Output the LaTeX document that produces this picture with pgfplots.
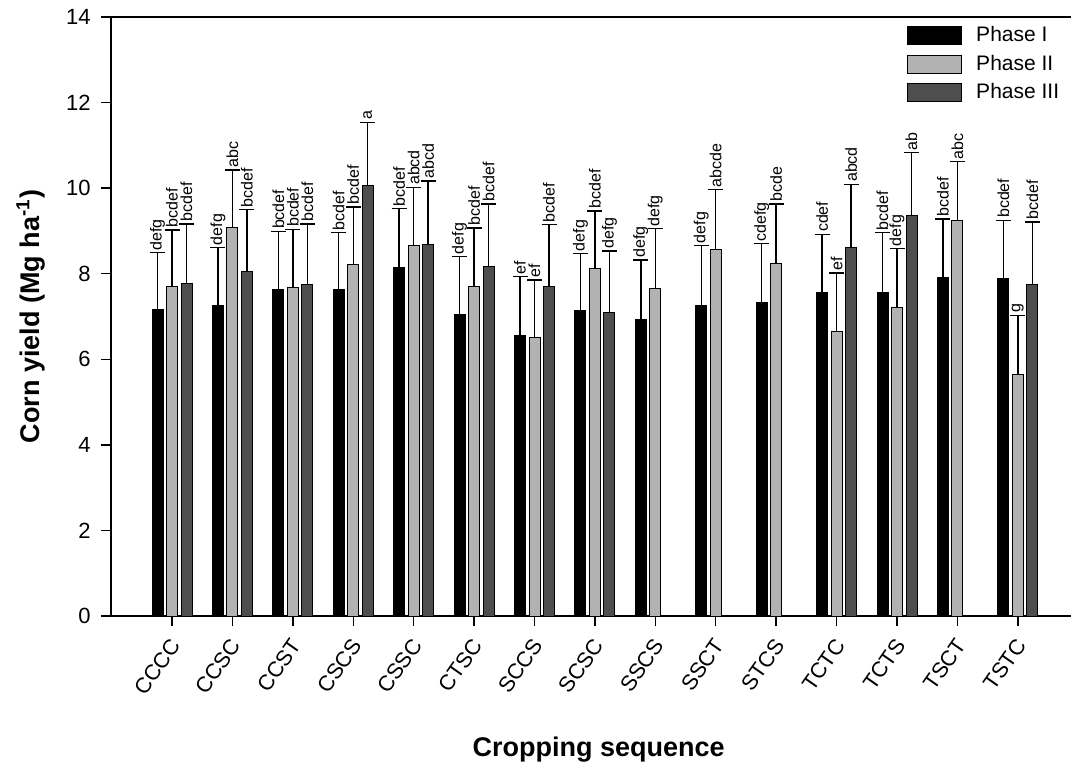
\documentclass[border=0pt]{standalone}
\usepackage{fontspec}
\setmainfont{Liberation Sans}
\usepackage{pgfplots}
\usepackage{pgfplotstable}
\pgfplotsset{compat=1.18}
\definecolor{ltgray}{RGB}{178,178,178}
\definecolor{dkgray}{RGB}{78,78,78}

\pgfplotstableread{
x y e lab
0 7.17 1.32 defg
1 7.26 1.35 defg
2 7.64 1.35 bcdef
3 7.63 1.33 bcdef
4 8.14 1.38 bcdef
5 7.05 1.35 defg
6 6.56 1.37 ef
7 7.13 1.34 defg
8 6.94 1.38 defg
9 7.25 1.41 defg
10 7.33 1.37 cdefg
11 7.55 1.37 cdef
12 7.57 1.39 bcdef
13 7.90 1.38 bcdef
14 7.88 1.37 bcdef
}\tabI

\pgfplotstableread{
x y e lab
0 7.69 1.33 bcdef
1 9.07 1.35 abc
2 7.68 1.36 bcdef
3 8.22 1.34 bcdef
4 8.67 1.35 abcd
5 7.69 1.38 bcdef
6 6.50 1.35 ef
7 8.12 1.35 bcdef
8 7.66 1.39 defg
9 8.57 1.40 abcde
10 8.23 1.40 bcde
11 6.64 1.38 ef
12 7.20 1.39 defg
13 9.25 1.37 abc
14 5.65 1.38 g
}\tabII

\pgfplotstableread{
x y e lab
0 7.77 1.39 bcdef
1 8.06 1.44 bcdef
2 7.74 1.42 bcdef
3 10.07 1.47 a
4 8.68 1.49 abcd
5 8.18 1.45 bcdef
6 7.69 1.46 bcdef
7 7.10 1.43 defg
11 8.62 1.47 abcd
12 9.35 1.48 ab
14 7.75 1.46 bcdef
}\tabIII

\begin{document}
\begin{tikzpicture}
\path[use as bounding box] (-55.5pt,-72.5pt) rectangle (480pt,308pt);
\begin{axis}[
  at={(0,0)}, anchor=south west,
  scale only axis, width=480pt, height=299.5pt,
  xmin=-1.01, xmax=14.88, ymin=0, ymax=14,
  axis lines=left, axis line style={-, line width=0.7pt},
  tick align=outside, major tick length=5pt,
  tick style={black, line width=0.7pt},
  xtick={0,...,14},
  xticklabels={CCCC,CCSC,CCST,CSCS,CSSC,CTSC,SCCS,SCSC,SSCS,SSCT,STCS,TCTC,TCTS,TSCT,TSTC},
  ytick={0,2,...,14},
  minor tick num=0,
  /pgf/number format/assume math mode=true,
  xticklabel style={font=\fontsize{10.8}{12}\selectfont, rotate=55, anchor=east, inner sep=0pt, xshift=-5.07pt, yshift=-5.75pt},
  yticklabel style={font=\fontsize{11}{12}\selectfont, inner sep=0pt, xshift=-5pt},
  xlabel={Cropping sequence},
  ylabel={Corn yield (Mg ha\textsuperscript{-1})},
  label style={font=\bfseries\fontsize{13.5}{15}\selectfont},
  xlabel style={at={(axis description cs:0.508,0)}, anchor=base, yshift=-70pt},
  ylabel style={at={(axis description cs:-0.0833,0.5)}, anchor=center, rotate=0},
  legend style={at={(rel axis cs:0.829,0.99)}, anchor=north west, draw=none, fill=none,
    inner sep=0pt, font=\fontsize{10.5}{12}\selectfont,
    nodes={inner sep=1pt, text height=8pt, text depth=2pt},
    row sep=2.4pt},
  legend cell align=left,
  clip=false,
  mylegend/.style={legend image code/.code={\draw[##1, line width=0.5pt] (0pt,-4.5pt) rectangle (27pt,4.5pt); \path (33pt,0pt);}},
  err/.style={draw=none, mark=none, forget plot, error bars/.cd, y dir=plus, y explicit,
    error bar style={black, line width=0.7pt},
    error mark options={rotate=90, black, mark size=3.75pt, line width=0.7pt}},
  lbl/.style={draw=none, mark=none, forget plot, nodes near coords, point meta=explicit symbolic,
    nodes near coords style={rotate=90, anchor=west, inner sep=1pt, font=\fontsize{8}{9}\selectfont}},
]
\addplot[ybar, bar width=0.182, bar shift=-0.24, fill=black, draw=black, line width=0.5pt, mylegend]
  table[x=x, y=y] {\tabI};
\addplot[ybar, bar width=0.182, bar shift=0, fill=ltgray, draw=black, line width=0.5pt, mylegend]
  table[x=x, y=y] {\tabII};
\addplot[ybar, bar width=0.182, bar shift=0.24, fill=dkgray, draw=black, line width=0.5pt, mylegend]
  table[x=x, y=y] {\tabIII};
\legend{Phase I, Phase II, Phase III}
\addplot[err] table[x expr=\thisrow{x}-0.24, y=y, y error=e] {\tabI};
\addplot[err] table[x expr=\thisrow{x}, y=y, y error=e] {\tabII};
\addplot[err] table[x expr=\thisrow{x}+0.24, y=y, y error=e] {\tabIII};
\addplot[lbl] table[x expr=\thisrow{x}-0.24, y expr=\thisrow{y}+\thisrow{e}, meta=lab] {\tabI};
\addplot[lbl] table[x expr=\thisrow{x}, y expr=\thisrow{y}+\thisrow{e}, meta=lab] {\tabII};
\addplot[lbl] table[x expr=\thisrow{x}+0.24, y expr=\thisrow{y}+\thisrow{e}, meta=lab] {\tabIII};
\draw[line width=0.7pt] (rel axis cs:0,1) -- (rel axis cs:1,1);
\end{axis}
\end{tikzpicture}
\end{document}
